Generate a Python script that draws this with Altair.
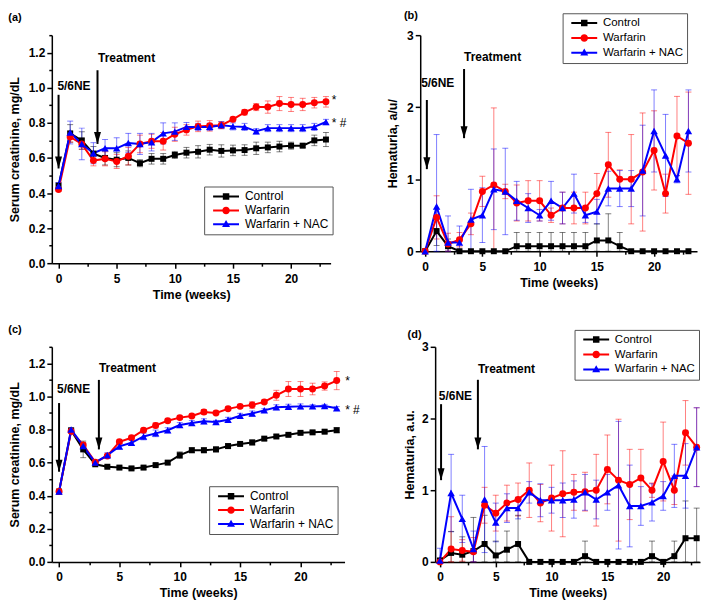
import altair as alt
import pandas as pd

FONT = "Liberation Sans"
weeks = list(range(24))
series = ["Control", "Warfarin", "Warfarin + NAC"]
colors = ["#000000", "#ff0000", "#0000ff"]
shapes = ["square", "circle", "triangle-up"]
sizes = [36, 49, 56]

x_ticks = [0, 2.5, 5, 7.5, 10, 12.5, 15, 17.5, 20, 22.5]
creat_ticks = [0.0, 0.1, 0.2, 0.3, 0.4, 0.5, 0.6, 0.7, 0.8, 0.9, 1.0, 1.1, 1.2, 1.3]
hema_ticks = [0, 0.5, 1, 1.5, 2, 2.5, 3]

# ---- panel (a): serum creatinine ----
a_ctrl = [0.44, 0.74, 0.70, 0.625, 0.60, 0.59, 0.60, 0.57, 0.595, 0.595, 0.617, 0.63, 0.635, 0.647, 0.64, 0.643, 0.645, 0.655, 0.66, 0.665, 0.67, 0.67, 0.70, 0.705]
a_ctrl_err = [0.02, 0.05, 0.05, 0.04, 0.04, 0.04, 0.04, 0.02, 0.03, 0.03, 0.02, 0.03, 0.035, 0.03, 0.035, 0.03, 0.03, 0.035, 0.03, 0.03, 0.02, 0.01, 0.03, 0.04]
a_warf = [0.42, 0.72, 0.68, 0.585, 0.595, 0.58, 0.61, 0.68, 0.695, 0.695, 0.735, 0.76, 0.78, 0.783, 0.787, 0.82, 0.86, 0.89, 0.89, 0.91, 0.905, 0.905, 0.915, 0.92]
a_warf_err = [0.01, 0.03, 0.03, 0.03, 0.04, 0.04, 0.05, 0.05, 0.04, 0.05, 0.04, 0.03, 0.03, 0.03, 0.02, 0.01, 0.015, 0.02, 0.035, 0.04, 0.04, 0.035, 0.03, 0.03]
a_nac = [0.44, 0.745, 0.68, 0.627, 0.655, 0.655, 0.685, 0.68, 0.69, 0.74, 0.75, 0.777, 0.777, 0.777, 0.787, 0.78, 0.777, 0.752, 0.77, 0.77, 0.77, 0.77, 0.777, 0.805]
a_nac_err = [0.02, 0.065, 0.09, 0.06, 0.05, 0.06, 0.055, 0.06, 0.05, 0.06, 0.05, 0.025, 0.02, 0.02, 0.02, 0.02, 0.02, 0.015, 0.02, 0.02, 0.02, 0.02, 0.02, 0.015]

# ---- panel (b): hematuria ----
b_ctrl = [0, 0.28, 0.07, 0, 0, 0, 0, 0, 0.07, 0.07, 0.07, 0.07, 0.07, 0.07, 0.07, 0.15, 0.15, 0.07, 0, 0, 0, 0, 0, 0]
b_ctrl_err = [0, 0.2, 0.1, 0, 0, 0, 0, 0, 0.19, 0.19, 0.19, 0.19, 0.19, 0.19, 0.19, 0.23, 0.37, 0.19, 0, 0, 0, 0, 0, 0]
b_warf = [0, 0.47, 0.1, 0.16, 0.38, 0.83, 0.92, 0.83, 0.67, 0.7, 0.7, 0.5, 0.6, 0.6, 0.6, 0.8, 1.2, 1.0, 1.0, 1.1, 1.4, 0.8, 1.6, 1.5]
b_warf_err = [0, 0.3, 0.15, 0.1, 0.15, 0.21, 1.07, 0.1, 0.25, 0.28, 0.28, 0.1, 0.22, 0.22, 0.22, 0.28, 0.45, 0.13, 0.62, 0.82, 0.55, 0.27, 0.55, 0.71]
b_nac = [0, 0.62, 0.12, 0.12, 0.44, 0.5, 0.86, 0.83, 0.7, 0.6, 0.5, 0.7, 0.6, 0.8, 0.5, 0.55, 0.87, 0.87, 0.87, 1.12, 1.67, 1.33, 1.0, 1.67]
b_nac_err = [0, 1.0, 0.37, 0.23, 0.42, 0.38, 0.56, 0.6, 0.27, 0.2, 0.08, 0.27, 0.22, 0.27, 0.1, 0.17, 0.24, 0.25, 0.25, 0.63, 0.57, 0.57, 0.05, 0.57]

# ---- panel (c): serum creatinine ----
c_ctrl = [0.425, 0.795, 0.68, 0.59, 0.575, 0.57, 0.565, 0.57, 0.585, 0.60, 0.645, 0.675, 0.675, 0.68, 0.70, 0.713, 0.722, 0.745, 0.758, 0.768, 0.78, 0.783, 0.787, 0.796]
c_ctrl_err = [0.005, 0.01, 0.05, 0.01, 0.005, 0.01, 0.01, 0.01, 0.01, 0.01, 0.02, 0.015, 0.015, 0.015, 0.015, 0.01, 0.015, 0.01, 0.01, 0.01, 0.01, 0.01, 0.01, 0.015]
c_warf = [0.425, 0.79, 0.707, 0.603, 0.64, 0.726, 0.75, 0.796, 0.825, 0.853, 0.872, 0.882, 0.906, 0.90, 0.925, 0.94, 0.948, 0.967, 1.007, 1.045, 1.045, 1.045, 1.063, 1.096]
c_warf_err = [0.005, 0.01, 0.015, 0.01, 0.01, 0.01, 0.01, 0.01, 0.015, 0.01, 0.01, 0.01, 0.015, 0.01, 0.01, 0.01, 0.02, 0.01, 0.03, 0.045, 0.045, 0.035, 0.025, 0.055]
c_nac = [0.425, 0.80, 0.70, 0.60, 0.645, 0.698, 0.72, 0.758, 0.777, 0.796, 0.827, 0.84, 0.85, 0.845, 0.859, 0.883, 0.897, 0.916, 0.935, 0.938, 0.94, 0.94, 0.942, 0.929]
c_nac_err = [0.005, 0.01, 0.015, 0.01, 0.015, 0.015, 0.015, 0.02, 0.02, 0.015, 0.015, 0.015, 0.015, 0.01, 0.015, 0.015, 0.015, 0.01, 0.015, 0.015, 0.015, 0.01, 0.01, 0.01]

# ---- panel (d): hematuria ----
d_ctrl = [0.02, 0.125, 0.1, 0.15, 0.25, 0.09, 0.17, 0.25, 0, 0, 0, 0, 0, 0.08, 0, 0, 0, 0, 0, 0.08, 0, 0.08, 0.33, 0.33]
d_ctrl_err = [0, 0.3, 0.25, 0.47, 0.4, 0.2, 0.26, 0.4, 0, 0, 0, 0, 0, 0.21, 0, 0, 0, 0, 0, 0.21, 0, 0.21, 0.52, 0.42]
d_warf = [0, 0.18, 0.16, 0.14, 0.79, 0.68, 0.82, 0.87, 1.0, 0.82, 0.89, 0.95, 0.97, 0.98, 1.0, 1.29, 1.14, 1.08, 1.17, 1.0, 1.4, 1.0, 1.8, 1.6]
d_warf_err = [0, 0.45, 0.15, 0.2, 0.25, 0.25, 0.25, 0.23, 0.38, 0.26, 0.46, 0.6, 0.25, 0.27, 0.5, 0.48, 0.85, 0.49, 0.4, 0.1, 0.55, 0.2, 0.45, 0.55]
d_nac = [0.02, 0.96, 0.6, 0.18, 0.87, 0.55, 0.75, 0.75, 0.97, 0.86, 0.86, 0.86, 0.87, 0.97, 0.87, 0.97, 1.07, 0.78, 0.78, 0.83, 0.92, 1.2, 1.2, 1.6]
d_nac_err = [0.17, 0.54, 0.33, 0.25, 0.74, 0.27, 0.2, 0.15, 0.15, 0.23, 0.18, 0.24, 0.26, 0.25, 0.27, 0.25, 0.89, 0.57, 0.27, 0.26, 0.2, 0.44, 0.45, 0.55]

# ---- annotations (data units) ----
note_text = ["5/6NE", "Treatment"]
a_note_x = [-0.1, 3.4]; a_note_y = [1.01, 1.17]
b_note_x = [-0.35, 3.4]; b_note_y = [2.33, 2.70]
c_note_x = [-0.17, 3.3]; c_note_y = [1.045, 1.17]
d_note_x = [-0.1, 3.4]; d_note_y = [2.32, 2.69]
a_arrow_x = [0, 3.35]; a_arrow_top = [0.96, 1.10]; a_arrow_tip = [0.54, 0.68]
b_arrow_x = [0.15, 3.4]; b_arrow_top = [2.10, 2.53]; b_arrow_tip = [1.14, 1.57]
c_arrow_x = [0, 3.3]; c_arrow_top = [0.96, 1.10]; c_arrow_tip = [0.545, 0.68]
d_arrow_x = [0.1, 3.4]; d_arrow_top = [2.20, 2.54]; d_arrow_tip = [1.14, 1.57]
a_star_text = ["*", "* #"]; a_star_x = [23.5, 23.5]; a_star_y = [0.93, 0.80]
c_star_text = ["*", "*  #"]; c_star_x = [23.7, 23.7]; c_star_y = [1.095, 0.92]
b_tag = ("(b)", -1.85, 3.27)
d_tag = ("(d)", -2.9, 3.17)

# legend symbols: a short line with the series marker on it
LINE = "M-2.6,-0.2H2.6V0.2H-2.6Z"
SQ = "M-0.65,-0.65H0.65V0.65H-0.65Z"
CI = "M-0.75,0A0.75,0.75 0 1,1 0.75,0A0.75,0.75 0 1,1 -0.75,0Z"
TR = "M0,-0.85L0.8,0.55H-0.8Z"
legend_shapes = [LINE + SQ, LINE + CI, LINE + TR]
ARROW = "M0,0L-0.7,-2.4L0.7,-2.4Z"


def make_df(means, errs):
    rows = []
    for s, m, e in zip(series, means, errs):
        for w, v, er in zip(weeks, m, e):
            rows.append({"week": w, "series": s, "mean": v, "err": er,
                         "lo": max(v - er, 0.0), "hi": v + er})
    return pd.DataFrame(rows)


def panel(label, means, errs, xdom, ydom, yvals, ymajor, yfmt, ytitle, width, height,
          leg_x, leg_y, leg_fs, ytitle_pad, nx, ny, ax, atop, atip, stars=None, tag=None):
    df = make_df(means, errs)
    xaxis = alt.Axis(values=x_ticks, title="Time (weeks)",
                     labelExpr="datum.value % 5 == 0 ? datum.label : ''",
                     tickSize={"condition": {"test": "datum.value % 5 != 0", "value": 3}, "value": 5},
                     labelPadding=5, titlePadding=4, labelOverlap=False, labelFlush=False, grid=False)
    yaxis = alt.Axis(values=yvals, title=ytitle, format=yfmt,
                     labelExpr=f"({ymajor}) ? datum.label : ''",
                     tickSize={"condition": {"test": f"!({ymajor})", "value": 3}, "value": 5},
                     labelPadding=2, titlePadding=ytitle_pad, labelOverlap=False, labelFlush=False, grid=False)
    xs = alt.Scale(domain=xdom, nice=False, zero=False)
    ys = alt.Scale(domain=ydom, nice=False, zero=False)

    def X(f):
        return alt.X(f + ":Q", scale=xs, axis=xaxis)

    def Y(f):
        return alt.Y(f + ":Q", scale=ys, axis=yaxis)

    legend = alt.Legend(
        title=None, orient="none", legendX=leg_x, legendY=leg_y,
        padding=4, rowPadding=2, symbolSize=100, symbolStrokeWidth=0,
        symbolOffset=12, labelOffset=13, labelFont=FONT, labelFontSize=leg_fs,
        labelColor="black", strokeColor="#555555", fillColor="white", symbolOpacity=1)
    cscale = alt.Scale(domain=series, range=colors)
    color_nl = alt.Color("series:N", scale=cscale, legend=None)

    # legend-only layer (first, so its legend settings win): rows sit outside the domain and are clipped
    ldf = pd.DataFrame({"series": series, "week": [-50] * 3, "mean": [-50] * 3})
    layers = [alt.Chart(ldf).mark_point(filled=True, opacity=1, clip=True).encode(
        x=X("week"), y=Y("mean"),
        color=alt.Color("series:N", scale=cscale, legend=legend),
        shape=alt.Shape("series:N", scale=alt.Scale(domain=series, range=legend_shapes), legend=legend))]

    base = alt.Chart(df)
    layers.append(alt.Chart(df[df["err"] > 0]).mark_errorbar(
        ticks=True, size=6, thickness=1, opacity=0.5).encode(
        x=X("week"), y=Y("lo"), y2="hi:Q", color=color_nl))
    layers.append(base.mark_line(strokeWidth=2).encode(x=X("week"), y=Y("mean"), color=color_nl))
    for s, shp, sz in zip(series, shapes, sizes):
        layers.append(alt.Chart(df[df["series"] == s]).mark_point(
            filled=True, opacity=1, shape=shp, size=sz).encode(
            x=X("week"), y=Y("mean"), color=color_nl))

    ndf = pd.DataFrame({"week": nx, "mean": ny, "txt": note_text})
    notes = alt.Chart(ndf).mark_text(align="left", baseline="middle", font=FONT, fontSize=12,
                                     fontWeight="bold", color="black").encode(
        x=X("week"), y=Y("mean"), text="txt:N")
    adf = pd.DataFrame({"week": ax, "mean": atop, "mean2": atip})
    shafts = alt.Chart(adf).mark_rule(strokeWidth=2, color="black").encode(
        x=X("week"), y=Y("mean"), y2="mean2:Q")
    heads = alt.Chart(adf).mark_point(shape=ARROW, filled=True, size=100, color="black", opacity=1).encode(
        x=X("week"), y=Y("mean2"))
    layers += [shafts, heads, notes]
    if stars is not None:
        sdf = pd.DataFrame({"week": stars[1], "mean": stars[2], "txt": stars[0]})
        layers.append(alt.Chart(sdf).mark_text(align="left", baseline="middle", font=FONT,
                                               fontSize=12, color="black").encode(
            x=X("week"), y=Y("mean"), text="txt:N"))
    props = dict(width=width, height=height)
    if tag is not None:
        tdf = pd.DataFrame({"week": [tag[1]], "mean": [tag[2]], "txt": [tag[0]]})
        layers.append(alt.Chart(tdf).mark_text(align="left", baseline="middle", font=FONT,
                                               fontSize=11, fontWeight="bold", color="black").encode(
            x=X("week"), y=Y("mean"), text="txt:N"))
    else:
        props["title"] = alt.TitleParams(label, anchor="start", frame="bounds", font=FONT, fontSize=11,
                                         fontWeight="bold", color="black", offset=6)
    return alt.layer(*layers).properties(**props)


CRE_MAJOR = "round(datum.value * 10) % 2 == 0"
HEM_MAJOR = "datum.value % 1 == 0"

pa = panel("(a)", [a_ctrl, a_warf, a_nac], [a_ctrl_err, a_warf_err, a_nac_err],
           [-0.58, 23.4], [0, 1.3], creat_ticks, CRE_MAJOR, ".1f", "Serum creatinine, mg/dL",
           280, 229, 153, 152, 12, 7, a_note_x, a_note_y, a_arrow_x, a_arrow_top, a_arrow_tip,
           stars=(a_star_text, a_star_x, a_star_y))
pb = panel("(b)", [b_ctrl, b_warf, b_nac], [b_ctrl_err, b_warf_err, b_nac_err],
           [-0.43, 23.75], [0, 3], hema_ticks, HEM_MAJOR, "d", "Hematuria, a/u/",
           278, 217, 143, -22, 11.5, 7, b_note_x, b_note_y, b_arrow_x, b_arrow_top, b_arrow_tip,
           tag=b_tag)
pc = panel("(c)", [c_ctrl, c_warf, c_nac], [c_ctrl_err, c_warf_err, c_nac_err],
           [-0.6, 23.65], [0, 1.3], creat_ticks, CRE_MAJOR, ".1f", "Serum creatinine, mg/dL",
           294, 216, 158, 140, 12, 7, c_note_x, c_note_y, c_arrow_x, c_arrow_top, c_arrow_tip,
           stars=(c_star_text, c_star_x, c_star_y))
pd_ = panel("(d)", [d_ctrl, d_warf, d_nac], [d_ctrl_err, d_warf_err, d_nac_err],
            [-0.43, 23.3], [0, 3], hema_ticks, HEM_MAJOR, "d", "Hematuria, a.u.",
            266, 216, 140, -17, 11.5, 5, d_note_x, d_note_y, d_arrow_x, d_arrow_top, d_arrow_tip,
            tag=d_tag)


def indep(c):
    return c.resolve_scale(color="independent", shape="independent").resolve_legend(
        color="independent", shape="independent")


row1 = indep(alt.hconcat(pa, pb, spacing=40))
row2 = indep(alt.hconcat(pc, pd_, spacing=40))
chart = indep(alt.vconcat(row1, row2, spacing=23)).properties(
    padding={"left": 0, "top": 0, "right": 0, "bottom": 0}
).configure_view(stroke=None).configure_axis(
    domainColor="black", domainWidth=1.5, tickColor="black", tickWidth=1.5,
    labelFont=FONT, labelFontSize=12, labelFontWeight="bold", labelColor="black",
    titleFont=FONT, titleFontSize=12.5, titleFontWeight="bold", titleColor="black"
)

chart.save("out.html", embed_options={"renderer": "svg", "actions": False})
